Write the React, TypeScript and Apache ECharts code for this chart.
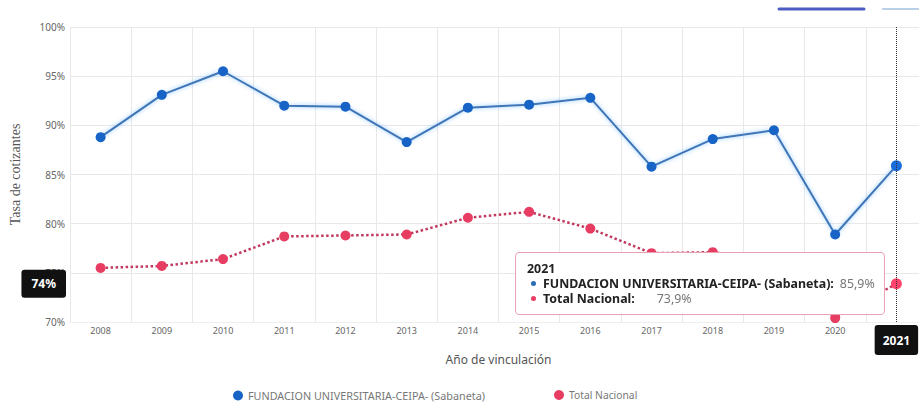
import React, { useEffect, useRef } from "react";
import * as echarts from "echarts";

const years = ["2008", "2009", "2010", "2011", "2012", "2013", "2014", "2015", "2016", "2017", "2018", "2019", "2020", "2021"];
const ceipaValues = [88.8, 93.1, 95.5, 92.0, 91.9, 88.3, 91.8, 92.1, 92.8, 85.8, 88.6, 89.5, 78.9, 85.9];
const nacionalValues = [75.5, 75.7, 76.4, 78.7, 78.8, 78.9, 80.6, 81.2, 79.5, 77.0, 77.1, 76.3, 70.4, 73.9];
const seriesNames = ["FUNDACION UNIVERSITARIA-CEIPA- (Sabaneta)", "Total Nacional"];
const yMin = 70;
const yMax = 100;
const yInterval = 5;
const highlightIndex = 13;

const FONT = "'Segoe UI', 'Noto Sans', 'Open Sans', sans-serif";
const BLUE = "#1763c6";
const RED = "#e83d62";

export default function App() {
  const ref = useRef<HTMLDivElement>(null);
  useEffect(() => {
    if (!ref.current) return;
    document.body.style.margin = "0";
    const chart = echarts.init(ref.current, undefined, { renderer: "svg" });
    const fmt = (v: number) => v.toFixed(1).replace(".", ",") + "%";
    const legendBase = {
      top: 385,
      icon: "circle",
      itemWidth: 10,
      itemHeight: 10,
    };
    chart.setOption({
      animation: false,
      textStyle: { fontFamily: FONT },
      grid: { left: 70, top: 27, width: 857, height: 295, containLabel: false, outerBoundsMode: "none" },
      graphic: [
        { type: "line", shape: { x1: 779, y1: 9, x2: 864, y2: 9 }, style: { stroke: "#4d5cc4", lineWidth: 3, lineCap: "round" } },
        { type: "line", shape: { x1: 883, y1: 9, x2: 925, y2: 9 }, style: { stroke: "#b9d0e6", lineWidth: 2, lineCap: "round" } },
      ],
      legend: [
        {
          ...legendBase,
          left: 228,
          textStyle: { fontSize: 10.8, color: "#777", fontFamily: FONT },
          data: [seriesNames[0]],
        },
        {
          ...legendBase,
          left: 549,
          textStyle: { fontSize: 10.3, color: "#777", fontFamily: FONT },
          data: [seriesNames[1]],
        },
      ],
      tooltip: {
        trigger: "axis",
        triggerOn: "none",
        alwaysShowContent: true,
        transitionDuration: 0,
        position: [515, 252],
        backgroundColor: "#ffffff",
        borderColor: "#e9a2b4",
        borderWidth: 1,
        borderRadius: 4,
        padding: [8, 9, 8, 11],
        extraCssText: "box-shadow:none;",
        axisPointer: {
          type: "cross",
          lineStyle: { color: "#333", type: "dotted", width: 1 },
          crossStyle: { color: "rgba(0,0,0,0)", width: 0 },
          label: { backgroundColor: "#111", color: "#fff", fontWeight: "bold", fontSize: 12, padding: [9, 8], fontFamily: FONT },
        },
        formatter: (params: any) => {
          const list = Array.isArray(params) ? params : [params];
          const year = list[0] ? list[0].axisValue : "";
          const dot = (c: string) =>
            `<span style="display:inline-block;width:5px;height:5px;border-radius:50%;background:${c};margin:0 7px 2px 4px;vertical-align:middle"></span>`;
          let html = `<div style="font-family:${FONT.replace(/'/g, "")};font-size:12.4px;line-height:15px;color:#222">`;
          html += `<div style="font-weight:bold">${year}</div>`;
          list.forEach((p: any, i: number) => {
            const c = i === 0 ? "#2a6fb5" : RED;
            const gap = i === 0 ? 6 : 22;
            html += `<div>${dot(c)}<b>${p.seriesName}:</b><span style="margin-left:${gap}px;color:#777">${fmt(p.value)}</span></div>`;
          });
          html += "</div>";
          return html;
        },
      },
      xAxis: {
        type: "category",
        data: years,
        boundaryGap: true,
        name: "Año de vinculación",
        nameLocation: "middle",
        nameGap: 31,
        nameTextStyle: { fontSize: 12, color: "#555", fontFamily: FONT },
        axisLine: { show: true, lineStyle: { color: "#eeeeee" } },
        axisTick: { show: false },
        axisLabel: { fontSize: 9, color: "#666", margin: 4, fontFamily: FONT },
        splitLine: { show: true, lineStyle: { color: "#e8e8e8", width: 1 } },
        axisPointer: {
          label: { margin: 3 },
        },
      },
      yAxis: {
        type: "value",
        min: yMin,
        max: yMax,
        interval: yInterval,
        name: "Tasa de cotizantes",
        nameLocation: "middle",
        nameRotate: 90,
        nameGap: 48,
        nameTextStyle: { fontSize: 14, color: "#555", fontFamily: "'Liberation Serif', 'DejaVu Serif', serif" },
        axisLine: { show: false },
        axisTick: { show: false },
        axisLabel: { fontSize: 10, color: "#666", margin: 5, formatter: (v: number) => v + "%", fontFamily: FONT },
        splitLine: { show: true, lineStyle: { color: "#e8e8e8", width: 1 } },
        axisPointer: {
          lineStyle: { opacity: 0, width: 0 },
          label: { margin: 4, padding: [8, 10], formatter: (p: any) => Math.round(p.value) + "%" },
        },
      },
      series: [
        {
          name: seriesNames[0],
          type: "line",
          data: ceipaValues,
          symbol: "circle",
          symbolSize: 10,
          itemStyle: { color: BLUE },
          lineStyle: { color: "#3a6aa6", width: 2, shadowColor: "rgba(120,190,255,0.9)", shadowBlur: 4 },
          z: 3,
        },
        {
          name: seriesNames[1],
          type: "line",
          data: nacionalValues,
          symbol: "circle",
          symbolSize: 10,
          itemStyle: { color: RED },
          lineStyle: { color: "#b03456", width: 2.5, type: "dotted" },
          z: 2,
        },
      ],
    });
    chart.dispatchAction({ type: "showTip", seriesIndex: 1, dataIndex: highlightIndex });
    return () => chart.dispose();
  }, []);
  return <div ref={ref} style={{ width: 919, height: 402, background: "#fff", overflow: "hidden" }} />;
}
